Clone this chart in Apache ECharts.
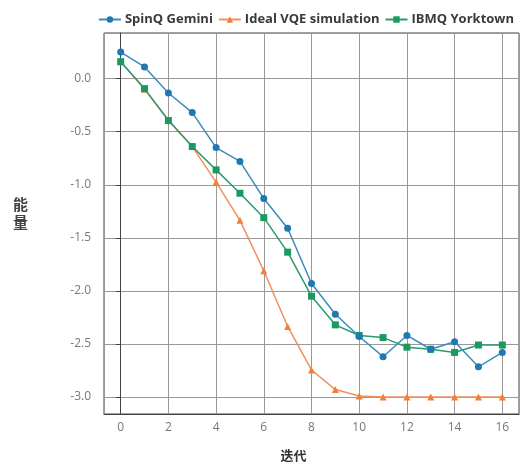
<!DOCTYPE html>
<html>
<head>
<meta charset="utf-8">
<script src="https://cdn.jsdelivr.net/npm/echarts@6/dist/echarts.min.js"></script>
<style>
  html, body { margin: 0; padding: 0; background: #fff; }
  #chart { width: 522px; height: 463px; }
</style>
</head>
<body>
<div id="chart"></div>
<script>
// iterations on the x axis
const iterations = [0, 1, 2, 3, 4, 5, 6, 7, 8, 9, 10, 11, 12, 13, 14, 15, 16]
// energy values per series
const spinqGemini = [0.25, 0.11, -0.135, -0.32, -0.65, -0.78, -1.13, -1.41, -1.93, -2.22, -2.43, -2.62, -2.42, -2.55, -2.48, -2.715, -2.58]
const idealVqe = [0.16, -0.1, -0.39, -0.64, -0.975, -1.335, -1.81, -2.335, -2.745, -2.93, -2.99, -3.0, -3.0, -3.0, -3.0, -3.0, -3.0]
const ibmqYorktown = [0.16, -0.094, -0.395, -0.64, -0.86, -1.08, -1.31, -1.635, -2.05, -2.32, -2.42, -2.44, -2.53, -2.55, -2.58, -2.51, -2.51]

const seriesNames = ['SpinQ Gemini', 'Ideal VQE simulation', 'IBMQ Yorktown']

const pair = (ys) => iterations.map((x, i) => [x, ys[i]])

const chart = echarts.init(document.getElementById('chart'))

const font = '"Open Sans", "Noto Sans CJK SC", sans-serif'

const option = {
  animation: false,
  textStyle: { fontFamily: font },
  legend: {
    top: 8,
    right: 3,
    itemWidth: 22,
    itemHeight: 8,
    itemGap: 5,
    data: seriesNames,
    textStyle: { fontFamily: font, fontWeight: 'bold', fontSize: 13, color: '#3a3a3a', padding: [0, 0, 0, -1] }
  },
  grid: {
    left: 104,
    right: 3,
    top: 33,
    bottom: 49,
    show: true,
    borderColor: '#444',
    borderWidth: 1,
    containLabel: false,
    outerBoundsMode: 'none'
  },
  xAxis: {
    type: 'value',
    min: -0.7,
    max: 16.7,
    minInterval: 2,
    maxInterval: 2,
    name: '迭代',
    nameLocation: 'middle',
    nameGap: 36,
    nameTextStyle: { fontFamily: font, fontWeight: 'bold', fontSize: 13, color: '#333', padding: [0, 36, 0, 0] },
    axisLine: { show: true, onZero: false, lineStyle: { color: '#444' } },
    axisTick: { show: false },
    axisLabel: { showMinLabel: false, showMaxLabel: false, margin: 8, fontSize: 12, color: '#777' },
    splitLine: { show: true, lineStyle: { color: '#999', width: 1 } }
  },
  yAxis: {
    type: 'value',
    min: -3.16,
    max: 0.43,
    minInterval: 0.5,
    maxInterval: 0.5,
    // trailing empty line lifts the stacked name a little above the middle
    name: '能\n量\n',
    nameLocation: 'middle',
    nameRotate: 0,
    nameGap: 76,
    nameTextStyle: { fontFamily: font, fontWeight: 'bold', fontSize: 15, color: '#444', lineHeight: 18 },
    axisLine: { show: true, lineStyle: { color: '#444' } },
    axisTick: { show: true, length: 5, lineStyle: { color: '#444' } },
    axisLabel: {
      showMinLabel: false,
      showMaxLabel: false,
      margin: 13,
      fontSize: 12,
      color: '#777',
      formatter: (v) => v.toFixed(1)
    },
    splitLine: { show: true, lineStyle: { color: '#999', width: 1 } }
  },
  series: [
    {
      name: seriesNames[0],
      type: 'line',
      z: 4,
      data: pair(spinqGemini),
      symbol: 'circle',
      symbolSize: 7,
      itemStyle: { color: '#1f77b4' },
      lineStyle: { color: '#3b8cbb', width: 1.5 }
    },
    {
      name: seriesNames[1],
      type: 'line',
      z: 2,
      data: pair(idealVqe),
      symbol: 'triangle',
      symbolSize: 7,
      itemStyle: { color: '#f07f3c' },
      lineStyle: { color: '#f0905a', width: 1.5 }
    },
    {
      name: seriesNames[2],
      type: 'line',
      z: 3,
      data: pair(ibmqYorktown),
      symbol: 'rect',
      symbolSize: 7,
      itemStyle: { color: '#1a9a60' },
      lineStyle: { color: '#2a9a70', width: 1.5 }
    }
  ]
}

chart.setOption(option)
</script>
</body>
</html>
